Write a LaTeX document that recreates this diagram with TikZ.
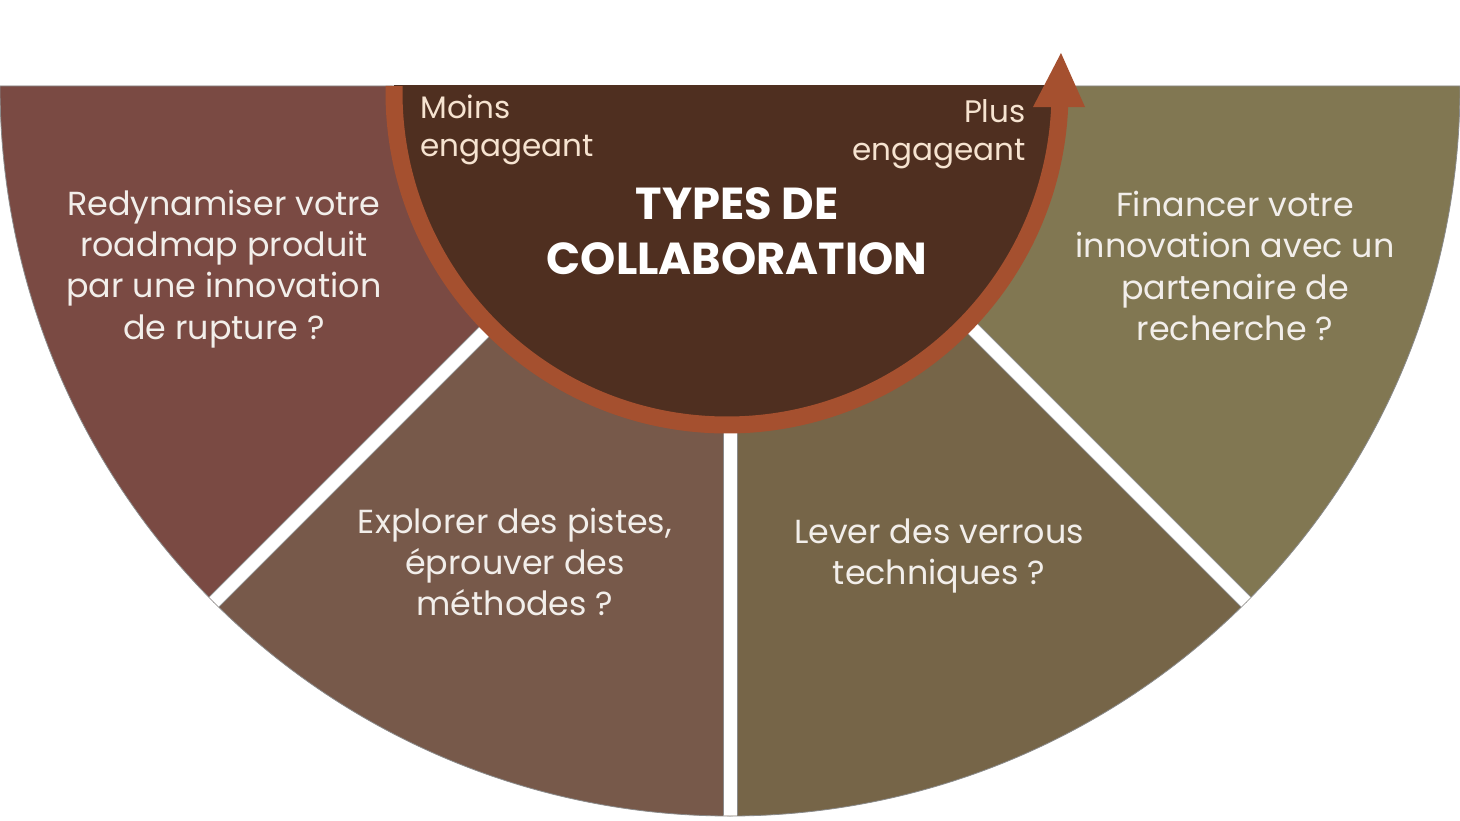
\documentclass[tikz,border=0pt]{standalone}
\usepackage{fontspec}
\setmainfont{Poppins}
\definecolor{secA}{HTML}{7A4A43}
\definecolor{secB}{HTML}{77594A}
\definecolor{secC}{HTML}{766548}
\definecolor{secD}{HTML}{817752}
\definecolor{core}{HTML}{4F2F20}
\definecolor{ringc}{HTML}{A5502F}
\definecolor{txt}{HTML}{F2EEEA}
\definecolor{cream}{HTML}{F6E3D0}
\definecolor{edgec}{HTML}{8A8A8A}
\begin{document}
\begin{tikzpicture}[x=0.75pt,y=0.75pt,
  sector/.style={draw=edgec,line width=0.6pt},
  gapstrip/.style={fill=white,draw=edgec,line width=0.6pt},
  sectext/.style={text=txt,align=center,font=\fontsize{25}{30.9}\selectfont,inner sep=0pt},
  sidetext/.style={text=cream,font=\fontsize{23.3}{28.5}\selectfont,inner sep=0pt},
  titletext/.style={text=white,align=center,font=\bfseries\fontsize{33.6}{41}\selectfont,inner sep=0pt}]
\useasboundingbox (-730,-735) rectangle (730,86);
\coordinate (O) at (0,0);
\coordinate (C) at (-3,-6);
% outer sectors
\path[fill=secA,sector] (O) -- (180:730) arc[start angle=180,end angle=225,radius=730] -- cycle;
\path[fill=secB,sector] (O) -- (225:730) arc[start angle=225,end angle=270,radius=730] -- cycle;
\path[fill=secC,sector] (O) -- (270:730) arc[start angle=270,end angle=315,radius=730] -- cycle;
\path[fill=secD,sector] (O) -- (315:730) arc[start angle=315,end angle=360,radius=730] -- cycle;
% white gaps
\begin{scope}
  \clip (O) circle (729.6);
  \foreach \a in {225,270,315}{
    \path[gapstrip,rotate=\a] (150,-7) rectangle (760,7);
  }
\end{scope}
% core half disc
\begin{scope}
  \clip (-740,0) rectangle (740,-800);
  \fill[core] (C) circle (333);
\end{scope}
% ring arrow
\draw[ringc,line width=12.75pt] (C) ++(178.97:333) arc[start angle=178.97,end angle=358,radius=333];
\coordinate (tipL) at (303,-21);
\coordinate (tip) at (331,33);
\coordinate (tipR) at (355,-21);
\fill[ringc] (tipL) -- (tip) -- (tipR) -- cycle;
% texts
\node[titletext] (title) at (7,-145) {TYPES DE\\COLLABORATION};
\node[sidetext,anchor=west,align=left] (moins) at (-310,-44) {Moins\\engageant};
\node[sidetext,anchor=east,align=right] (plus) at (296,-48) {Plus\\engageant};
\node[sectext] (t1) at (-506,-183) {Redynamiser votre\\roadmap produit\\par une innovation\\de rupture ?};
\node[sectext] (t2) at (-215,-476) {Explorer des pistes,\\éprouver des\\méthodes ?};
\node[sectext] (t3) at (209,-470) {Lever des verrous\\techniques ?};
\node[sectext] (t4) at (505,-180) {Financer votre\\innovation avec un\\partenaire de\\recherche ?};
\end{tikzpicture}
\end{document}
